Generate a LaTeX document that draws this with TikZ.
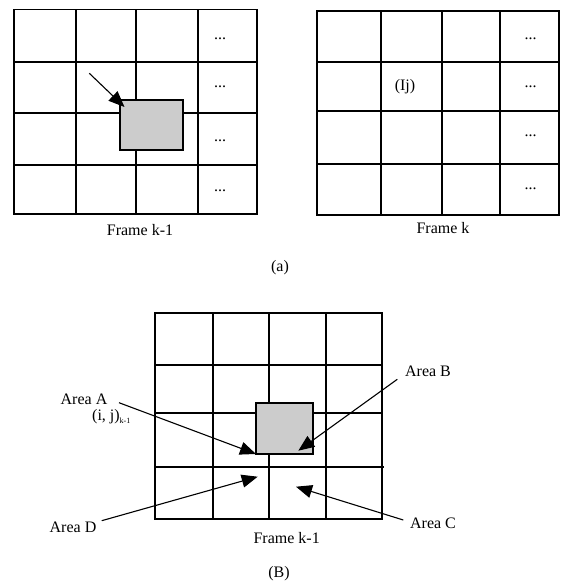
\documentclass[tikz,border=0pt]{standalone}
\usepackage{fontspec}
\setmainfont{Liberation Serif}
\usetikzlibrary{arrows.meta}
\begin{document}
\begin{tikzpicture}[x=1pt,y=-1pt,
  gridline/.style={line width=1.8pt,line cap=rect},
  graybox/.style={draw,line width=1.8pt,fill=black!20},
  lbl/.style={font=\fontsize{16}{18}\selectfont,inner sep=0pt},
  dots/.style={font=\fontsize{16}{17}\selectfont,inner sep=0pt},
  pointer/.style={line width=1.1pt,-{Triangle[length=16pt,width=13pt]}}]
\useasboundingbox (0,0) rectangle (560,584);
% ---- top-left grid (Frame k-1)
\foreach \x in {14,76,136,198,257} \draw[gridline] (\x,9.5) -- (\x,214.3);
\foreach \y in {9.5,61.7,112.7,165.3,214.3} \draw[gridline] (14,\y) -- (257,\y);
\node[graybox,minimum width=62.7pt,minimum height=50.6pt,anchor=north west,inner sep=0pt] (boxa) at (119,98.7) {};
\coordinate (pa) at (89.3,73.3);
\draw[pointer] (pa) -- (124.5,107);
\foreach \y [count=\i] in {38.7,87,141,191} \node[dots] (da\i) at (220,\y) {...};
\node[lbl] (fa) at (140,230) {Frame k-1};
% ---- top-right grid (Frame k)
\foreach \x in {317.3,380.7,441.7,500,559} \draw[gridline] (\x,10.7) -- (\x,215);
\foreach \y in {10.7,61.7,111,164,215} \draw[gridline] (317.3,\y) -- (559,\y);
\node[lbl] (ij) at (405,87) {(Ij)};
\foreach \y [count=\i] in {38.7,87,136,189} \node[dots] (db\i) at (530.7,\y) {...};
\node[lbl] (fb) at (443,228) {Frame k};
\node[lbl] (capa) at (280,268) {(a)};
% ---- bottom grid
\foreach \x in {155,213.3,269,325.7,381.7} \draw[gridline] (\x,313.3) -- (\x,518.7);
\foreach \y in {313.3,365,412.7,518.7} \draw[gridline] (155,\y) -- (381.7,\y);
\draw[gridline] (155,467.3) -- (383.3,467.3);
\node[graybox,minimum width=57.3pt,minimum height=50.7pt,anchor=north west,inner sep=0pt] (boxb) at (255,402.3) {};
\node[lbl] (areaA) at (84,399) {Area A};
\node[lbl,anchor=west] (ijk) at (92,417) {(i, j)\textsubscript{\fontsize{8}{9}\selectfont k-1}};
\node[lbl] (areaB) at (428,371) {Area B};
\node[lbl] (areaD) at (73,527) {Area D};
\node[lbl] (areaC) at (433,523) {Area C};
\coordinate (sA) at (119,402.7);
\coordinate (tA) at (256,454);
\coordinate (sB) at (397.3,379.3);
\coordinate (tB) at (298.3,450.7);
\coordinate (sD) at (101.7,520.7);
\coordinate (tD) at (257.7,476.7);
\coordinate (sC) at (403.3,520);
\coordinate (tC) at (296,486.7);
\draw[pointer] (sA) -- (tA);
\draw[pointer] (sB) -- (tB);
\draw[pointer] (sD) -- (tD);
\draw[pointer] (sC) -- (tC);
\node[lbl] (fc) at (286.7,538.3) {Frame k-1};
\node[lbl] (capb) at (279,573.3) {(B)};
\end{tikzpicture}
\end{document}
